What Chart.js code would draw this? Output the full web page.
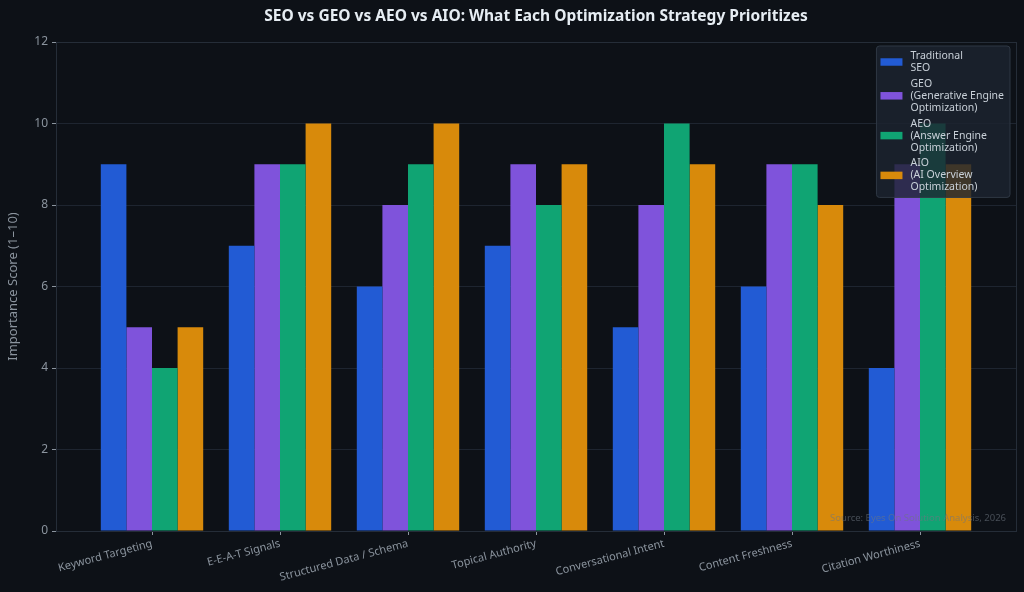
<!DOCTYPE html>
<html><head><meta charset="utf-8">
<script src="https://cdn.jsdelivr.net/npm/chart.js@4.4.1/dist/chart.umd.min.js"></script>
<style>html,body{margin:0;padding:0;background:#0d1117;}#wrap{width:1024px;height:592px;position:relative;}</style>
</head><body><div id="wrap"><canvas id="c" width="1024" height="592"></canvas></div>
<script>
const titleText = "SEO vs GEO vs AEO vs AIO: What Each Optimization Strategy Prioritizes";
const yAxisTitle = "Importance Score (1\u201310)";
const sourceText = "Source: Eyes On Solution Analysis, 2026";
const categories = ["Keyword Targeting","E-E-A-T Signals","Structured Data / Schema","Topical Authority","Conversational Intent","Content Freshness","Citation Worthiness"];
const seriesNames = ["Traditional\nSEO","GEO\n(Generative Engine\nOptimization)","AEO\n(Answer Engine\nOptimization)","AIO\n(AI Overview\nOptimization)"];
const seoScores = [9,7,6,7,5,6,4];
const geoScores = [5,9,8,9,8,9,9];
const aeoScores = [4,9,9,8,10,9,10];
const aioScores = [5,10,10,9,9,8,9];
const yTickValues = [0,2,4,6,8,10,12];
const seriesColors = ["#225bd4","#7f53db","#10a473","#d88a0b"];

const allScores = [seoScores, geoScores, aeoScores, aioScores];
const datasets = allScores.map((vals, s) => ({
  label: seriesNames[s],
  data: vals.map((v, i) => ({x: i, y: v})),
  backgroundColor: seriesColors[s],
  borderWidth: 0,
  categoryPercentage: 0.8,
  barPercentage: 1.0
}));

const frameAndExtras = {
  id: 'frameAndExtras',
  afterDatasetsDraw(chart) {
    const ctx = chart.ctx, a = chart.chartArea;
    ctx.save();
    // title centred over the plot area
    ctx.font = 'bold 15.5px "Noto Sans"';
    ctx.fillStyle = '#e6edf3';
    ctx.textAlign = 'center';
    ctx.textBaseline = 'middle';
    ctx.fillText(titleText, (a.left + a.right) / 2, 16.3);
    // frame
    ctx.strokeStyle = '#252d38';
    ctx.lineWidth = 1;
    ctx.strokeRect(Math.round(a.left)+0.5, Math.round(a.top)+0.5, Math.round(a.right-a.left), Math.round(a.bottom-a.top));
    // source
    ctx.font = '9.5px "Noto Sans"';
    ctx.fillStyle = 'rgba(110,118,129,0.6)';
    ctx.textAlign = 'right';
    ctx.fillText(sourceText, a.right - 10, a.bottom - 13);
    // legend
    const fs = 10.5, lineH = 12, pad = 4, gap = 3.8, sw = 22, sh = 7.5, swGap = 8;
    ctx.font = fs + 'px "Noto Sans"';
    let maxW = 0, nLines = 0;
    seriesNames.forEach(n => n.split('\n').forEach(l => { maxW = Math.max(maxW, ctx.measureText(l).width); nLines++; }));
    const boxW = pad + sw + swGap + maxW + 6;
    const boxH = pad*2 + nLines*lineH + (seriesNames.length-1)*gap;
    const bx = a.right - 6 - boxW, by = a.top + 4;
    ctx.beginPath();
    ctx.roundRect(bx, by, boxW, boxH, 3);
    ctx.fillStyle = 'rgba(28,35,48,0.82)';
    ctx.fill();
    ctx.strokeStyle = '#2f3844';
    ctx.stroke();
    let y = by + pad;
    ctx.textAlign = 'left';
    ctx.textBaseline = 'middle';
    seriesNames.forEach((n, s) => {
      const lines = n.split('\n');
      ctx.fillStyle = seriesColors[s];
      ctx.fillRect(bx + pad, y + lines.length*lineH/2 - sh/2, sw, sh);
      ctx.fillStyle = '#c9d1d9';
      lines.forEach((l, k) => ctx.fillText(l, bx + pad + sw + swGap, y + lineH*(k+0.5)));
      y += lines.length*lineH + gap;
    });
    ctx.restore();
  }
};

new Chart(document.getElementById('c'), {
  type: 'bar',
  data: { datasets },
  options: {
    responsive: false,
    animation: false,
    devicePixelRatio: 1,
    layout: { padding: { left: 0, right: 8, top: 42, bottom: 0 } },
    plugins: {
      legend: { display: false },
      tooltip: { enabled: false },
      title: { display: false }
    },
    scales: {
      x: {
        type: 'linear', min: -0.75, max: 6.75, offset: false,
        grid: { display: true, drawOnChartArea: false, drawTicks: true, tickLength: 4, tickColor: '#8b949e', offset: false },
        border: { display: false },
        afterBuildTicks: (scale) => { scale.ticks = categories.map((_, i) => ({ value: i })); },
        afterFit: (scale) => { scale.height = 61; },
        ticks: {
          autoSkip: false, minRotation: 15, maxRotation: 15, padding: 2,
          color: '#8b949e', font: { family: '"Noto Sans"', size: 11 },
          callback: (v) => categories[v]
        }
      },
      y: {
        min: 0, max: 12,
        afterBuildTicks: (scale) => { scale.ticks = yTickValues.map(v => ({ value: v })); },
        afterFit: (scale) => { scale.width = 56; },
        grid: { color: '#1e2530', lineWidth: 1, drawTicks: true, tickLength: 4, tickColor: '#8b949e' },
        border: { display: false },
        ticks: { color: '#8b949e', padding: 4, font: { family: '"Noto Sans"', size: 12 } },
        title: { display: true, text: yAxisTitle, color: '#8b949e', padding: { top: 5, bottom: 0 }, font: { family: '"Noto Sans"', size: 13 } }
      }
    }
  },
  plugins: [frameAndExtras]
});
</script></body></html>
